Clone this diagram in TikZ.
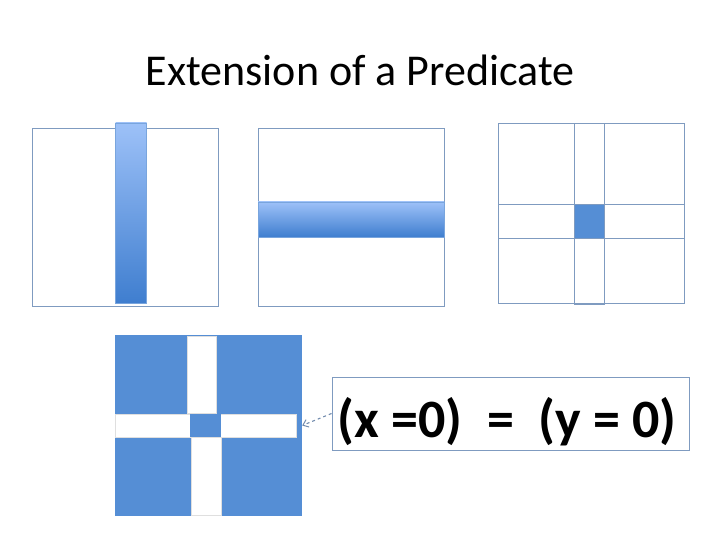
\documentclass[tikz,border=0pt]{standalone}
\usepackage{fontspec}
\setmainfont{Carlito}
\usetikzlibrary{arrows.meta}
\definecolor{edgeblue}{HTML}{7F9BC0}
\definecolor{fillblue}{HTML}{558ED5}
\definecolor{lightblue}{HTML}{9DC1F8}
\definecolor{darkblue}{HTML}{3F7ECF}
\begin{document}
\begin{tikzpicture}[x=1bp, y=-1bp,
        frame/.style={rectangle, draw=edgeblue, line width=0.9bp, inner sep=0pt, minimum width=186bp, minimum height=178bp},
        band/.style={rectangle, inner sep=0pt, top color=lightblue, bottom color=darkblue, draw=darkblue!70, line width=0.4bp},
        strip/.style={rectangle, draw=edgeblue, line width=0.9bp, inner sep=0pt},
        gap/.style={rectangle, fill=white, draw=gray!25, line width=0.4bp, inner sep=0pt},
        dasharrow/.style={-{Straight Barb[length=5bp, width=8bp, line width=1bp]}, dashed, line width=1.1bp, draw=edgeblue!90!black}
    ]
        \useasboundingbox (0,0) rectangle (720,540);
        % Title
        \node[anchor=base, font=\fontsize{44bp}{53bp}\selectfont] (title) at (360,86) {Extension of a Predicate};

        % Extension of x = 0
        \node[frame] (xbox) at (125,217) {};
        \node[band, minimum width=31bp, minimum height=180bp] (xband) at (131,213) {};

        % Extension of y = 0
        \node[frame] (ybox) at (351,217) {};
        \node[band, minimum width=186bp, minimum height=35bp] (yband) at (351,219.5) {};

        % Overlap of both
        \node[frame, minimum height=180bp] (bothbox) at (591,213) {};
        \node[strip, minimum width=30bp, minimum height=181bp] (vstrip) at (589,213.5) {};
        \node[strip, minimum width=186bp, minimum height=34bp] (hstrip) at (591,221) {};
        \node[rectangle, fill=fillblue, draw=edgeblue, line width=0.9bp, inner sep=0pt, minimum width=30bp, minimum height=34bp] (core) at (589,221) {};

        % Equivalence of the two
        \node[rectangle, fill=fillblue, inner sep=0pt, minimum width=187bp, minimum height=181bp] (cross) at (208.5,425.5) {};
        \node[gap, minimum width=29bp, minimum height=77bp] (gaptop) at (201.5,374.5) {};
        \node[gap, minimum width=181bp, minimum height=23bp] (gapmid) at (205.5,425.5) {};
        \node[gap, minimum width=30bp, minimum height=78bp] (gapbot) at (206,476) {};
        \node[rectangle, fill=fillblue, inner sep=0pt, minimum width=31bp, minimum height=23bp] (hole) at (205.5,425.5) {};

        \node[rectangle, draw=edgeblue, line width=0.9bp, inner sep=0pt, minimum width=357bp, minimum height=73bp] (eq) at (510.5,413.5) {};
        \node[font=\bfseries\fontsize{54bp}{60bp}\selectfont, inner sep=0pt] (eqtext) at (507,422) {(x\ =0)\ \ =\ \ (y\ =\ 0)};
        \draw[dasharrow] (eq.west) -- (cross.east);
    \end{tikzpicture}
\end{document}
